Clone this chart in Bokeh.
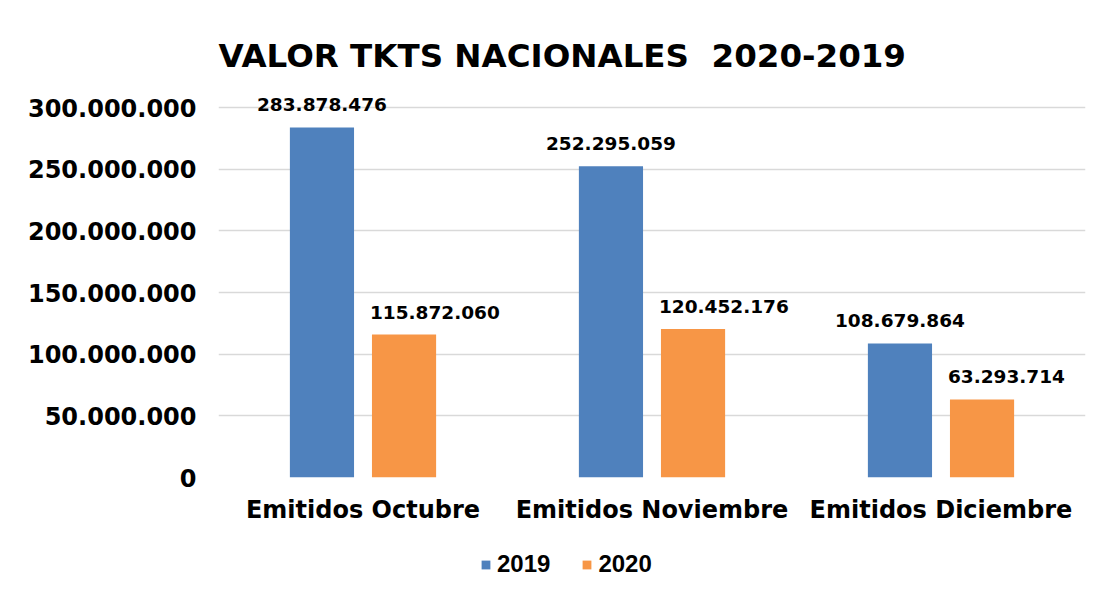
from bokeh.plotting import figure
from bokeh.layouts import column
from bokeh.models import (ColumnDataSource, FactorRange, Range1d, FixedTicker,
                          Legend, LegendItem, LabelSet, Title)
from bokeh.core.properties import value
from bokeh.transform import dodge
from bokeh.embed import file_html
from bokeh.resources import INLINE

categories = ["Emitidos Octubre", "Emitidos Noviembre", "Emitidos Diciembre"]
values_2019 = [283878476, 252295059, 108679864]
values_2020 = [115872060, 120452176, 63293714]
series_names = ["2019", "2020"]
y_ticks = [0, 50000000, 100000000, 150000000, 200000000, 250000000, 300000000]
y_tick_labels = ["0", "50.000.000", "100.000.000", "150.000.000",
                 "200.000.000", "250.000.000", "300.000.000"]
title_text = "VALOR TKTS NACIONALES \u00a02020-2019"

BLUE = "#4F81BD"
ORANGE = "#F79646"
FONT = "DejaVu Sans"


def fmt(v):
    return f"{v:,}".replace(",", ".")


src = ColumnDataSource(dict(
    cat=categories,
    v2019=values_2019,
    v2020=values_2020,
    l2019=[fmt(v) for v in values_2019],
    l2020=[fmt(v) for v in values_2020],
))

p = figure(
    x_range=FactorRange(*categories, range_padding=0),
    y_range=Range1d(0, 313800000),
    width=1100, height=530,
    output_backend="svg", toolbar_location=None,
    min_border_left=218, min_border_right=15, min_border_top=90, min_border_bottom=53,
    outline_line_color=None,
)

t = Title(text=title_text, align="left", offset=0, standoff=32,
          text_font=FONT, text_font_size="32.5px", text_font_style="bold",
          text_color="black")
p.add_layout(t, "above")

off = 0.142
w = 0.222
r1 = p.vbar(x=dodge("cat", -off, range=p.x_range), top="v2019", width=w,
            source=src, fill_color=BLUE, line_color=None)
r2 = p.vbar(x=dodge("cat", off, range=p.x_range), top="v2020", width=w,
            source=src, fill_color=ORANGE, line_color=None)

# 2019 labels centred over their bars; 2020 labels start at the bar's left edge
ls1 = LabelSet(x=dodge("cat", -off, range=p.x_range), y="v2019", text="l2019", source=src,
               text_align="center", text_baseline="alphabetic", y_offset=16,
               text_font=value(FONT), text_font_size=value("18.5px"),
               text_font_style="bold", text_color="black")
ls2 = LabelSet(x=dodge("cat", off - w / 2, range=p.x_range), y="v2020", text="l2020", source=src,
               text_align="left", text_baseline="alphabetic", y_offset=16, x_offset=-2,
               text_font=value(FONT), text_font_size=value("18.5px"),
               text_font_style="bold", text_color="black")
p.add_layout(ls1)
p.add_layout(ls2)

p.yaxis.ticker = FixedTicker(ticks=y_ticks)
p.yaxis.major_label_overrides = {t_: l for t_, l in zip(y_ticks, y_tick_labels)}
p.yaxis.major_label_text_font = FONT
p.yaxis.major_label_text_font_size = "24px"
p.yaxis.major_label_text_font_style = "bold"
p.yaxis.major_label_text_color = "black"
p.yaxis.axis_line_color = None
p.yaxis.major_tick_line_color = None
p.yaxis.minor_tick_line_color = None
p.yaxis.major_label_standoff = 16

p.xaxis.major_label_text_font = FONT
p.xaxis.major_label_text_font_size = "24px"
p.xaxis.major_label_text_font_style = "bold"
p.xaxis.major_label_text_color = "black"
p.xaxis.axis_line_color = None
p.xaxis.major_tick_line_color = None
p.xaxis.major_label_standoff = 12

p.xgrid.grid_line_color = None
p.ygrid.grid_line_color = "#d9d9d9"
p.ygrid.grid_line_width = 1.5

# legend strip below the chart (zero-size bars kept out of view; only the legend shows)
lg = figure(width=1100, height=63, output_backend="svg", toolbar_location=None,
            x_range=FactorRange(*categories), y_range=Range1d(-1000000000, -500000000),
            min_border=0, outline_line_color=None)
lg.axis.visible = False
lg.grid.visible = False
g1 = lg.vbar(x="cat", top="v2019", bottom="v2019", width=0, source=src,
             fill_color=BLUE, line_color=None)
g2 = lg.vbar(x="cat", top="v2020", bottom="v2020", width=0, source=src,
             fill_color=ORANGE, line_color=None)

legend = Legend(items=[LegendItem(label=series_names[0], renderers=[g1]),
                       LegendItem(label=series_names[1], renderers=[g2])],
                orientation="horizontal", location=(262, 15),
                glyph_width=11, glyph_height=11, label_standoff=6, spacing=31,
                label_text_font="Liberation Sans", label_text_font_size="24px",
                label_text_font_style="bold", label_text_color="black",
                border_line_color=None, background_fill_alpha=0,
                padding=0, margin=0)
lg.add_layout(legend, "center")

layout = column(p, lg, spacing=0)
open("out.html", "w").write(file_html(layout, INLINE))
